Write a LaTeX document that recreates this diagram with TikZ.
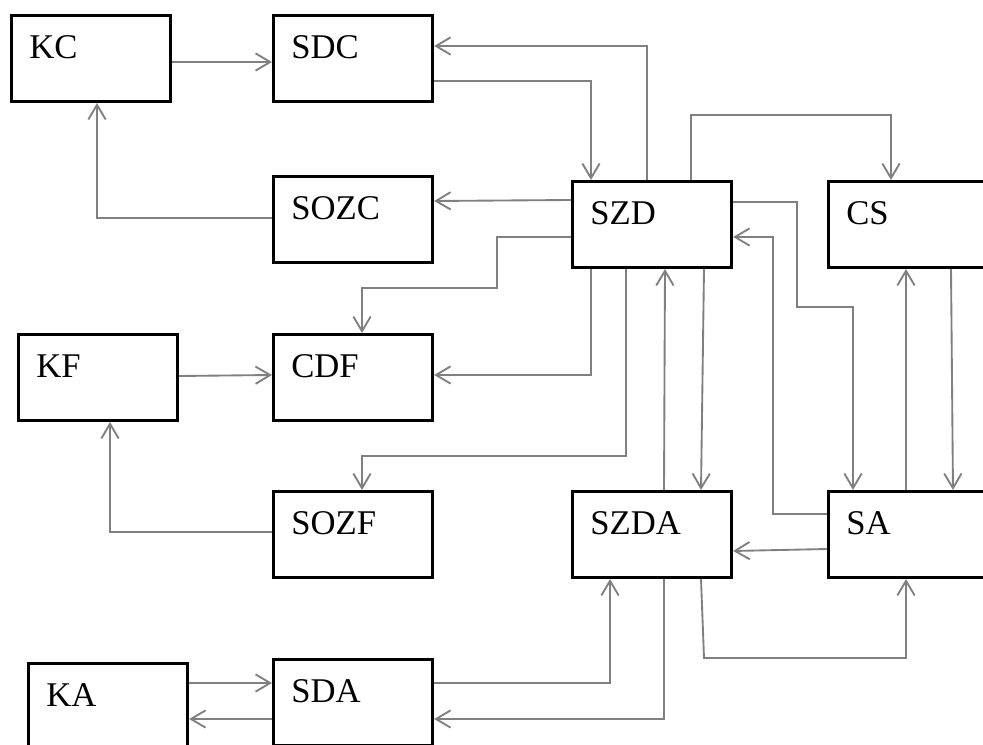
\documentclass[tikz,border=0pt]{standalone}
\usepackage{fontspec}
\setmainfont{Liberation Serif}
\usetikzlibrary{arrows.meta}
\begin{document}
\begin{tikzpicture}[x=0.75pt,y=-0.75pt,
  blk/.style={draw=black, line width=2pt, rectangle, anchor=north west,
    inner xsep=13.5pt, inner ysep=0pt, align=left, text width=92.6pt,
    text height=32.25pt, text depth=32.5pt, font=\fontsize{26}{30}\selectfont},
  widebox/.style={text width=103.5pt},
  tallbox/.style={text depth=42.75pt},
  conn/.style={draw=gray, line width=1.4pt, -{Straight Barb[length=11pt,width=13pt,line width=1.4pt]}}
]
\useasboundingbox (0,0) rectangle (983,745);
\clip (0,0) rectangle (983,745);
\node[blk] (kc) at (10,14) {KC};
\node[blk] (sdc) at (272,14) {SDC};
\node[blk] (sozc) at (272,175) {SOZC};
\node[blk] (szd) at (571,180) {SZD};
\node[blk,widebox] (cs) at (827,180) {CS};
\node[blk] (kf) at (17,333) {KF};
\node[blk] (cdf) at (272,333) {CDF};
\node[blk] (sozf) at (272,490) {SOZF};
\node[blk] (szda) at (571,490) {SZDA};
\node[blk,widebox] (sa) at (827,490) {SA};
\node[blk,tallbox] (ka) at (27,662) {KA};
\node[blk] (sda) at (272,658) {SDA};

\draw[conn] (kc.east |- 0,62) -- (sdc.west |- 0,62);
\draw[conn] (sdc.east |- 0,81) -| (szd.north -| 591,0);
\draw[conn] (szd.north -| 647,0) |- (sdc.east |- 0,46);
\draw[conn] (szd.west |- 0,200) -- (sozc.east |- 0,201);
\draw[conn] (sozc.west |- 0,218) -| (kc.south -| 97,0);
\draw[conn] (szd.north -| 691,0) -- (691,115) -- (891,115) -- (cs.north -| 891,0);
\draw[conn] (szd.west |- 0,237) -- (497,237) -- (497,288) -- (362,288) -- (cdf.north -| 362,0);
\draw[conn] (szd.south -| 591,0) |- (cdf.east |- 0,375);
\draw[conn] (szd.south -| 626,0) -- (626,456) -- (362,456) -- (sozf.north -| 362,0);
\draw[conn] (kf.east |- 0,376) -- (cdf.west |- 0,375);
\draw[conn] (sozf.west |- 0,532) -| (kf.south -| 110,0);
\draw[conn] (szda.north -| 664,0) -- (szd.south -| 665,0);
\draw[conn] (szd.south -| 704,0) -- (szda.north -| 701,0);
\draw[conn] (szd.east |- 0,202) -- (797,202) -- (797,307) -- (853,307) -- (sa.north -| 853,0);
\draw[conn] (sa.west |- 0,514) -- (773,514) -- (773,237) -- (szd.east |- 0,237);
\draw[conn] (sa.north -| 906,0) -- (cs.south -| 906,0);
\draw[conn] (cs.south -| 951,0) -- (sa.north -| 953,0);
\draw[conn] (sa.west |- 0,549) -- (szda.east |- 0,551);
\draw[conn] (sda.east |- 0,683) -| (szda.south -| 610,0);
\draw[conn] (szda.south -| 664,0) |- (sda.east |- 0,719);
\draw[conn] (szda.south -| 701,0) -- (704,658) -- (906,658) -- (sa.south -| 906,0);
\draw[conn] (ka.east |- 0,683) -- (sda.west |- 0,683);
\draw[conn] (sda.west |- 0,719) -- (ka.east |- 0,719);
\end{tikzpicture}
\end{document}
